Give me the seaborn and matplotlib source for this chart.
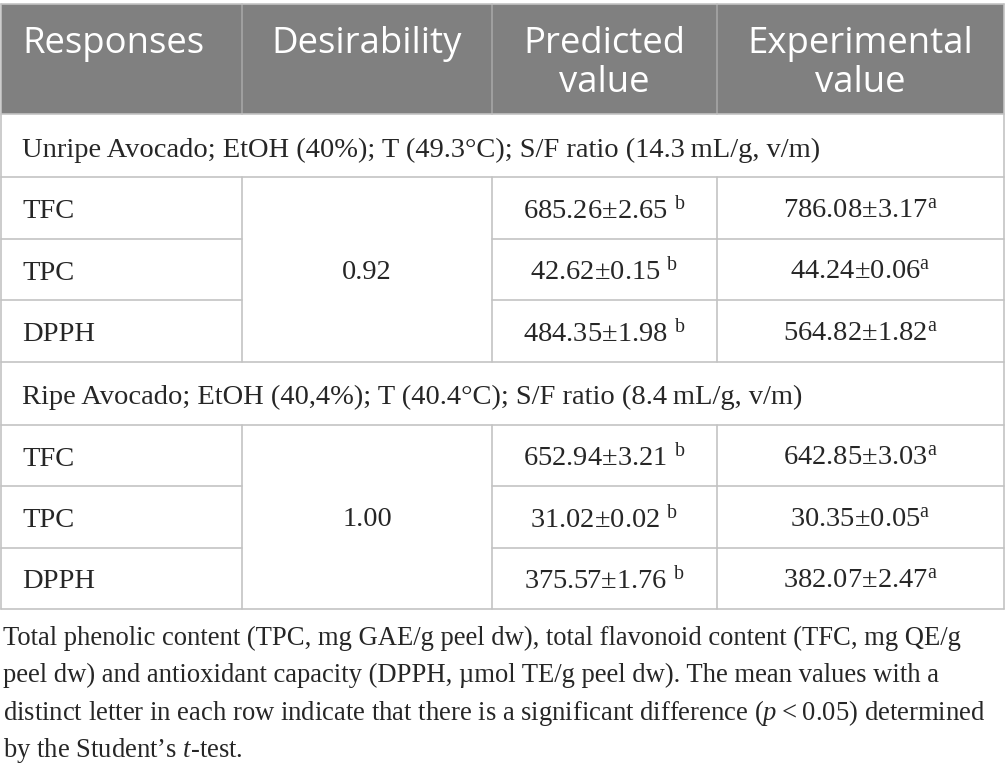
import matplotlib
matplotlib.use("Agg")
import matplotlib.pyplot as plt
import seaborn as sns
from matplotlib.patches import Rectangle

# ---------------- data ----------------
headers = ["Responses", "Desirability", "Predicted\nvalue", "Experimental\nvalue"]
sections = [
    "Unripe Avocado; EtOH (40%); T (49.3°C); S/F ratio (14.3\u2009mL/g, v/m)",
    "Ripe Avocado; EtOH (40,4%); T (40.4°C); S/F ratio (8.4\u2009mL/g, v/m)",
]
responses = ["TFC", "TPC", "DPPH"]
desirability = ["0.92", "1.00"]
pred_mean = [["685.26", "42.62", "484.35"], ["652.94", "31.02", "375.57"]]
pred_sd = [["2.65", "0.15", "1.98"], ["3.21", "0.02", "1.76"]]
exp_mean = [["786.08", "44.24", "564.82"], ["642.85", "30.35", "382.07"]]
exp_sd = [["3.17", "0.06", "1.82"], ["3.03", "0.05", "2.47"]]
pred_letter = "b"
exp_letter = "a"
footnote_lines = [
    "Total phenolic content (TPC, mg GAE/g peel dw), total flavonoid content (TFC, mg QE/g",
    "peel dw) and antioxidant capacity (DPPH, \u00b5mol TE/g peel dw). The mean values with a",
    "distinct letter in each row indicate that there is a significant difference ($p$\u2009<\u20090.05) determined",
    "by the Student\u2019s $t$-test.",
]

# ---------------- style ----------------
sns.set_theme(style="white")
plt.rcParams["font.family"] = ["Liberation Serif", "DejaVu Serif"]
plt.rcParams["mathtext.fontset"] = "custom"
plt.rcParams["mathtext.rm"] = "Liberation Serif"
plt.rcParams["mathtext.it"] = "Liberation Serif:italic"

W, H = 1005, 772
fig = plt.figure(figsize=(W / 100, H / 100), dpi=100)
ax = fig.add_axes([0, 0, 1, 1])
ax.set_xlim(0, W)
ax.set_ylim(H, 0)
ax.axis("off")

col_x = [1, 242, 492, 717, 1004]
top, head_bot = 4, 114
LINE = "#c3c3c3"
HEAD = "#808080"
LW = 1.2
body_fs = 20.5
head_fs = 26.3

# header
ax.add_patch(Rectangle((col_x[0], top), col_x[-1] - col_x[0], head_bot - top,
                       facecolor=HEAD, edgecolor="none", zorder=1))
for x in col_x[1:-1]:
    ax.plot([x, x], [top, head_bot], color="#a6a6a6", lw=LW, zorder=2)
for i, h in enumerate(headers):
    lines = h.split("\n")
    for j, ln in enumerate(lines):
        if i == 0:
            ax.text(22, 53 + 39.5 * j, ln, color="white", fontsize=head_fs,
                    family="Open Sans", ha="left", va="baseline", zorder=3)
        else:
            cx = (col_x[i] + col_x[i + 1]) / 2
            ax.text(cx, 53 + 39.5 * j, ln, color="white", fontsize=head_fs,
                    family="Open Sans", ha="center", va="baseline", zorder=3)

# body rows
sec_h, row_h = 63, 61.5
y = head_bot
for s in range(len(sections)):
    sec_top = y
    ax.text(22, sec_top + 43, sections[s], fontsize=body_fs, ha="left", va="baseline")
    y = sec_top + sec_h
    block_top = y
    for r in range(len(responses)):
        rt = block_top + r * row_h
        base = rt + 41
        ax.text(22, base, responses[r], fontsize=body_fs, ha="left", va="baseline")
        ax.text((col_x[2] + col_x[3]) / 2, base,
                f"{pred_mean[s][r]}\u00b1{pred_sd[s][r]} $^{{\\mathrm{{{pred_letter}}}}}$",
                fontsize=body_fs, ha="center", va="baseline")
        ax.text((col_x[3] + col_x[4]) / 2, base,
                f"{exp_mean[s][r]}\u00b1{exp_sd[s][r]}$^{{\\mathrm{{{exp_letter}}}}}$",
                fontsize=body_fs, ha="center", va="baseline")
        if r > 0:
            ax.plot([col_x[0], col_x[1]], [rt, rt], color=LINE, lw=LW)
            ax.plot([col_x[2], col_x[4]], [rt, rt], color=LINE, lw=LW)
    block_bot = block_top + len(responses) * row_h
    mid = (block_top + block_bot) / 2
    ax.text((col_x[1] + col_x[2]) / 2, mid + 9.5, desirability[s],
            fontsize=body_fs, ha="center", va="baseline")
    for x in col_x[1:-1]:
        ax.plot([x, x], [block_top, block_bot], color=LINE, lw=LW)
    ax.plot([col_x[0], col_x[-1]], [block_top, block_top], color=LINE, lw=LW)
    ax.plot([col_x[0], col_x[-1]], [block_bot, block_bot], color=LINE, lw=LW)
    y = block_bot

# outer border
ax.plot([col_x[0], col_x[-1]], [top, top], color=LINE, lw=LW)
ax.plot([col_x[0], col_x[0]], [top, y], color=LINE, lw=LW)
ax.plot([col_x[-1], col_x[-1]], [top, y], color=LINE, lw=LW)
ax.plot([col_x[0], col_x[-1]], [head_bot, head_bot], color=LINE, lw=LW)

# footnote
for k, ln in enumerate(footnote_lines):
    ax.text(3, 645 + 37.3 * k, ln, fontsize=19.2, ha="left", va="baseline")

fig.savefig("out.png", dpi=100, facecolor="white")
